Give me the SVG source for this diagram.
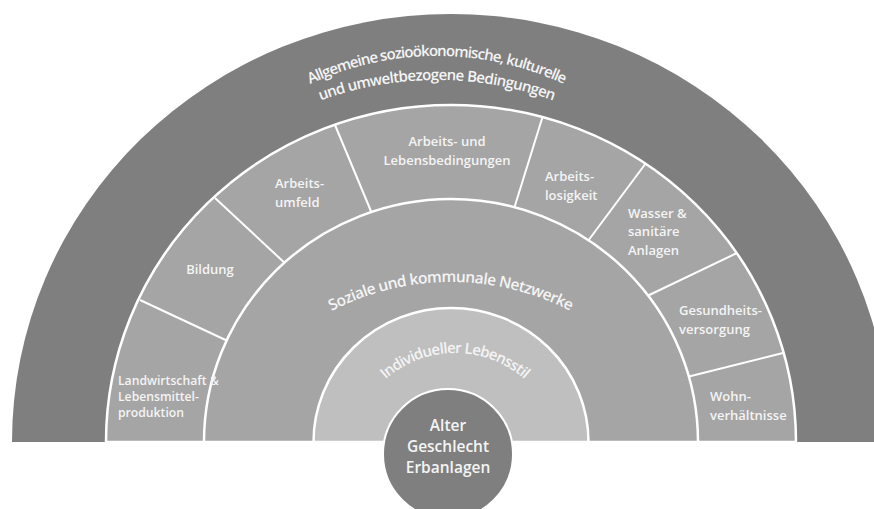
<svg xmlns="http://www.w3.org/2000/svg" width="874" height="509" viewBox="0 0 874 509">
<defs>
<style>
.lbl{font-family:"Open Sans",Lato,"Liberation Sans",sans-serif;font-size:13px;font-weight:600;fill:#f4f4f4}
.big{font-family:"Open Sans",Lato,"Liberation Sans",sans-serif;font-size:15.5px;font-weight:600;fill:#f4f4f4}
.ring{stroke:#ffffff;stroke-width:2.5}
.div{stroke:#ffffff;stroke-width:2;fill:none}
</style>
<path id="arc1" d="M 137 356 A 300 300 0 0 1 737 356"/>
<path id="arc2" d="M 97 420 A 340 340 0 0 1 777 420"/>
<path id="arc3" d="M 191 542 A 260 260 0 0 1 711 542"/>
<path id="arc4" d="M 350 458 A 105 105 0 0 1 560 458"/>
</defs>
<rect width="874" height="509" fill="#ffffff"/>

<g id="outer">
<path d="M 12 442 A 439 428 0 0 1 890 442 Z" fill="#7f7f7f"/>
<text class="big" style="font-size:15px"><textPath href="#arc1" startOffset="50%" text-anchor="middle" textLength="262" lengthAdjust="spacing">Allgemeine sozioökonomische, kulturelle</textPath></text>
<text class="big" style="font-size:15px"><textPath href="#arc2" startOffset="50%" text-anchor="middle" textLength="238" lengthAdjust="spacing">und umweltbezogene Bedingungen</textPath></text>
</g>

<g id="segments">
<path d="M 106 442 A 345 337 0 0 1 796 442 Z" fill="#a5a5a5"/>
<g class="div">
<line x1="140" y1="300" x2="232" y2="343"/>
<line x1="215" y1="198" x2="288" y2="266"/>
<line x1="335" y1="125" x2="373" y2="216"/>
<line x1="542.5" y1="117" x2="513" y2="212"/>
<line x1="646" y1="163" x2="585" y2="245"/>
<line x1="737" y1="253" x2="643" y2="298"/>
<line x1="783" y1="353" x2="683" y2="378"/>
</g>
<path class="ring" d="M 106 442 A 345 337 0 0 1 796 442 Z" fill="none"/>
</g>

<g id="netzwerke">
<path class="ring" d="M 204 442 A 247 243 0 0 1 698 442 Z" fill="#a5a5a5"/>
<text class="big"><textPath href="#arc3" startOffset="50%" text-anchor="middle" textLength="248" lengthAdjust="spacing">Soziale und kommunale Netzwerke</textPath></text>
</g>

<g id="lebensstil">
<path class="ring" d="M 313.5 442 A 137.5 134 0 0 1 588.5 442 Z" fill="#bfbfbf"/>
<text class="big" style="font-size:15px"><textPath href="#arc4" startOffset="50%" text-anchor="middle" textLength="152" lengthAdjust="spacing">Individueller Lebensstil</textPath></text>
</g>

<g id="kern">
<circle cx="448" cy="454" r="65" fill="#7f7f7f" stroke="#ffffff" stroke-width="2"/>
<text class="big" x="448" y="431" text-anchor="middle">Alter</text>
<text class="big" x="448" y="452" text-anchor="middle">Geschlecht</text>
<text class="big" x="448" y="473" text-anchor="middle">Erbanlagen</text>
</g>

<g id="landwirtschaft"><text class="lbl" style="font-size:12.2px" x="118" y="385">Landwirtschaft &amp;</text><text class="lbl" style="font-size:12.2px" x="118" y="401">Lebensmittel-</text><text class="lbl" style="font-size:12.2px" x="118" y="417">produktion</text></g>
<g id="bildung"><text class="lbl" x="210" y="273.5" text-anchor="middle">Bildung</text></g>
<g id="arbeitsumfeld"><text class="lbl" x="275" y="187.5">Arbeits-</text><text class="lbl" x="275" y="207">umfeld</text></g>
<g id="arbeitsbedingungen"><text class="lbl" x="447" y="145.5" text-anchor="middle">Arbeits- und</text><text class="lbl" x="447" y="164.5" text-anchor="middle">Lebensbedingungen</text></g>
<g id="arbeitslosigkeit"><text class="lbl" x="545" y="180.5">Arbeits-</text><text class="lbl" x="545" y="199.5">losigkeit</text></g>
<g id="wasser"><text class="lbl" x="628" y="217.5">Wasser &amp;</text><text class="lbl" x="628" y="236">sanitäre</text><text class="lbl" x="628" y="254.5">Anlagen</text></g>
<g id="gesundheit"><text class="lbl" x="679" y="314.5">Gesundheits-</text><text class="lbl" x="679" y="333.5">versorgung</text></g>
<g id="wohnen"><text class="lbl" x="710" y="400.5">Wohn-</text><text class="lbl" x="710" y="419.5">verhältnisse</text></g>
</svg>
